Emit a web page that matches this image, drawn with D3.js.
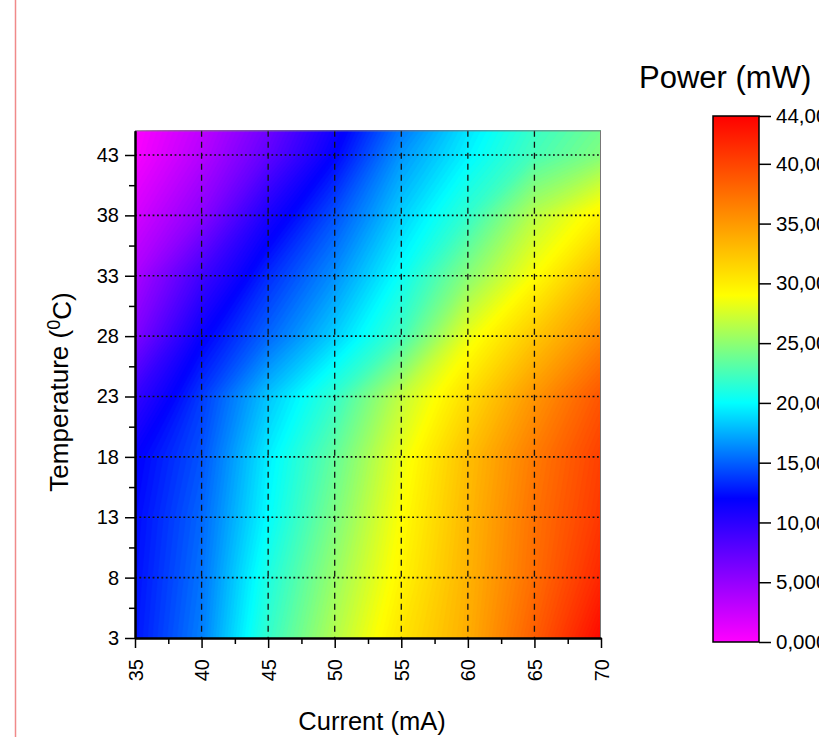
<!DOCTYPE html>
<html><head><meta charset="utf-8">
<script src="https://cdn.jsdelivr.net/npm/d3@7"></script>
<style>
body{margin:0;background:#fff;}
svg{display:block;font-family:Arial,"Liberation Sans",sans-serif;}
</style>
</head><body>
<svg id="chart" width="819" height="737"></svg>
<script>
// ---- data ----
const current = [35, 40, 45, 50, 55, 60, 65, 70];           // mA
const temperature = [3, 8, 13, 18, 23, 28, 33, 38, 43, 45];  // °C
// power (mW): one row per temperature, one column per current
const power = [
  [12.6, 16.0, 21.8, 26.3, 30.5, 33.8, 38.5, 43.5],
  [12.4, 15.6, 21.0, 25.4, 29.6, 33.5, 37.6, 41.8],
  [12.2, 15.2, 20.0, 24.4, 29.0, 33.2, 37.3, 40.8],
  [11.8, 14.6, 19.5, 23.5, 28.3, 32.8, 36.8, 40.3],
  [ 9.5, 13.8, 18.2, 21.8, 26.8, 31.0, 35.2, 39.0],
  [ 6.0, 11.7, 15.2, 18.5, 22.3, 28.3, 32.3, 36.0],
  [ 4.0,  9.0, 13.3, 16.5, 20.3, 24.8, 29.0, 33.3],
  [ 2.0,  5.5, 10.8, 14.5, 18.5, 21.8, 26.5, 29.8],
  [ 0.3,  3.5,  7.5, 12.0, 16.7, 19.7, 22.5, 24.6],
  [ 0.0,  3.0,  6.8, 11.3, 15.8, 19.2, 22.0, 24.0]
];
const xTicks = [35, 40, 45, 50, 55, 60, 65, 70];
const xMinorTicks = [37.5, 42.5, 47.5, 52.5, 57.5, 62.5, 67.5];
const yTicks = [3, 8, 13, 18, 23, 28, 33, 38, 43];
const yMinorTicks = [5.5, 10.5, 15.5, 20.5, 25.5, 30.5, 35.5, 40.5];
const xGrid = [40, 45, 50, 55, 60, 65];
const yGrid = [8, 13, 18, 23, 28, 33, 38, 43];
const colorTicks = [0, 5, 10, 15, 20, 25, 30, 35, 40, 44];
const colorTickLabels = ["0,000", "5,000", "10,00", "15,00", "20,00", "25,00", "30,00", "35,00", "40,00", "44,00"];
const colorStops = [0, 12, 20, 29, 44];
const colorRange = ["#ff00ff", "#0000ff", "#00ffff", "#ffff00", "#ff0000"];

// ---- setup ----
const svg = d3.select("#chart");
const X0 = 135, X1 = 601, YB = 638, YT = 130.85;
const x = d3.scaleLinear().domain([35, 70]).range([X0, X1]);
const y = d3.scaleLinear().domain([3, 45]).range([YB, YT]);
const color = d3.scaleLinear().domain(colorStops).range(colorRange).clamp(true);

// page border line
svg.append("line").attr("x1", 15.5).attr("x2", 15.5).attr("y1", 0).attr("y2", 737)
  .attr("stroke", "#f08a8a").attr("stroke-width", 1.5);

const defs = svg.append("defs");
defs.append("clipPath").attr("id", "plotclip").append("rect")
  .attr("x", X0).attr("y", YT).attr("width", X1 - X0).attr("height", YB - YT);

// ---- filled contours ----
const nx = current.length, ny = temperature.length;
const values = power.flat();
const thresholds = d3.range(0, 44, 0.25);
const contours = d3.contours().size([nx, ny]).thresholds(thresholds)(values);
const ix = d3.scaleLinear().domain(current.map((d, i) => i + 0.5)).range(current);
const iy = d3.scaleLinear().domain(temperature.map((d, i) => i + 0.5)).range(temperature);
const proj = d3.geoTransform({ point(px, py) { this.stream.point(x(ix(px)), y(iy(py))); } });
const path = d3.geoPath(proj);

const plot = svg.append("g").attr("clip-path", "url(#plotclip)");
plot.append("rect").attr("x", X0).attr("y", YT).attr("width", X1 - X0).attr("height", YB - YT)
  .attr("fill", color(0));
plot.selectAll("path").data(contours).join("path")
  .attr("d", path)
  .attr("fill", d => color(d.value + 0.125))
  .attr("stroke", d => color(d.value + 0.125))
  .attr("stroke-width", 0.4);

// ---- grid ----
svg.append("g").selectAll("line").data(xGrid).join("line")
  .attr("x1", d => x(d)).attr("x2", d => x(d)).attr("y1", YT).attr("y2", YB)
  .attr("stroke", "#111").attr("stroke-width", 1.3).attr("stroke-dasharray", "6,5");
svg.append("g").selectAll("line").data(yGrid).join("line")
  .attr("x1", X0).attr("x2", X1).attr("y1", d => y(d)).attr("y2", d => y(d))
  .attr("stroke", "#111").attr("stroke-width", 1.6).attr("stroke-dasharray", "1.8,2.6");

// frame top / right
svg.append("line").attr("x1", X0).attr("x2", X1).attr("y1", YT).attr("y2", YT)
  .attr("stroke", "#777").attr("stroke-width", 1);
svg.append("line").attr("x1", X1 - 0.5).attr("x2", X1 - 0.5).attr("y1", YT).attr("y2", YB)
  .attr("stroke", "#777").attr("stroke-width", 1);

// ---- axes ----
function styleAxis(g) {
  g.selectAll(".domain").attr("stroke", "#000").attr("stroke-width", 2);
  g.selectAll(".tick line").attr("stroke", "#000").attr("stroke-width", 1.5);
  g.selectAll("text").attr("fill", "#000").style("font-size", "20px")
    .style("font-family", "Arial, 'Liberation Sans', sans-serif");
}
const yAxis = svg.append("g").attr("transform", `translate(${X0},0)`)
  .call(d3.axisLeft(y).tickValues(yTicks).tickSize(10).tickSizeOuter(0).tickPadding(6).tickFormat(d3.format("d")));
styleAxis(yAxis);
const yMinor = svg.append("g").attr("transform", `translate(${X0},0)`)
  .call(d3.axisLeft(y).tickValues(yMinorTicks).tickSize(6).tickSizeOuter(0).tickFormat(""));
styleAxis(yMinor);

const xAxis = svg.append("g").attr("transform", `translate(0,${YB})`)
  .call(d3.axisBottom(x).tickValues(xTicks).tickSize(10).tickSizeOuter(0).tickFormat(d3.format("d")));
styleAxis(xAxis);
xAxis.selectAll(".tick text")
  .attr("transform", "rotate(-90)")
  .attr("text-anchor", "end")
  .attr("x", -21).attr("y", 0).attr("dy", "0.35em");
const xMinor = svg.append("g").attr("transform", `translate(0,${YB})`)
  .call(d3.axisBottom(x).tickValues(xMinorTicks).tickSize(6).tickSizeOuter(0).tickFormat(""));
styleAxis(xMinor);

// axis titles
svg.append("text").attr("x", 372).attr("y", 730).attr("text-anchor", "middle")
  .style("font-size", "25.5px").attr("fill", "#000").text("Current (mA)");
const yt = svg.append("text").attr("transform", `translate(68,392) rotate(-90)`)
  .attr("text-anchor", "middle").style("font-size", "26px").attr("fill", "#000");
yt.append("tspan").text("Temperature (");
yt.append("tspan").attr("dy", "-0.42em").style("font-size", "18px").text("0");
yt.append("tspan").attr("dy", "0.42em").text("C)");

// ---- colour bar ----
const CB0 = 713, CB1 = 759, CBT = 116, CBB = 642;
const cy = d3.scaleLinear().domain([0, 44]).range([CBB, CBT]);
const grad = defs.append("linearGradient").attr("id", "cbgrad")
  .attr("x1", 0).attr("y1", 1).attr("x2", 0).attr("y2", 0);
grad.selectAll("stop").data(colorStops).join("stop")
  .attr("offset", d => d / 44).attr("stop-color", d => color(d));
svg.append("rect").attr("x", CB0).attr("y", CBT).attr("width", CB1 - CB0).attr("height", CBB - CBT)
  .attr("fill", "url(#cbgrad)").attr("stroke", "#000").attr("stroke-width", 1.5);
const cAxis = svg.append("g").attr("transform", `translate(${CB1},0)`)
  .call(d3.axisRight(cy).tickValues(colorTicks).tickSize(12).tickSizeOuter(0).tickPadding(5)
    .tickFormat((d, i) => colorTickLabels[i]));
styleAxis(cAxis);
cAxis.select(".domain").remove();
cAxis.selectAll("text").style("font-size", "20.5px");

svg.append("text").attr("x", 639).attr("y", 88).attr("text-anchor", "start")
  .style("font-size", "31px").attr("fill", "#000").text("Power (mW)");
</script>
</body></html>
